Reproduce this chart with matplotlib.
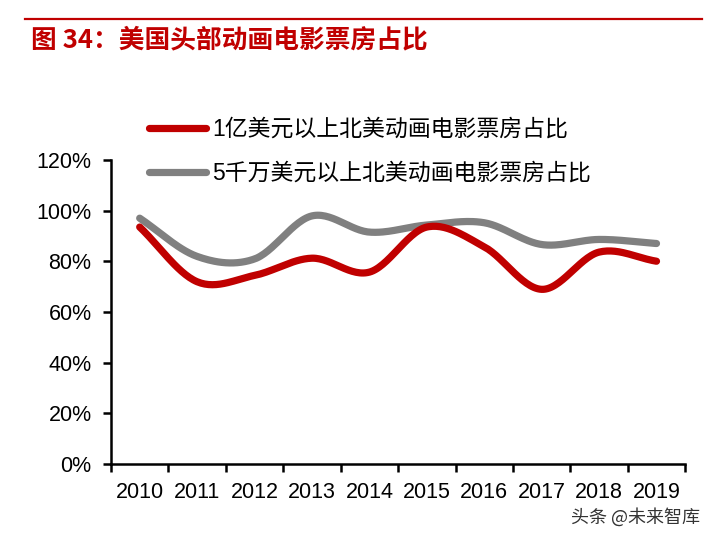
import numpy as np
import matplotlib
matplotlib.use("Agg")
import matplotlib.pyplot as plt
from matplotlib.ticker import PercentFormatter, FixedLocator

plt.rcParams['font.family'] = ['Liberation Sans', 'Noto Sans CJK SC', 'DejaVu Sans']

# data
years = ['2010', '2011', '2012', '2013', '2014', '2015', '2016', '2017', '2018', '2019']
share_100m = [93.6, 72.0, 74.5, 81.3, 75.8, 93.6, 85.8, 69.0, 83.7, 80.1]
share_50m = [97.1, 82.0, 81.0, 98.0, 91.6, 94.4, 95.3, 86.7, 88.7, 87.1]
labels = ['1亿美元以上北美动画电影票房占比', '5千万美元以上北美动画电影票房占比']
title = '图 34：美国头部动画电影票房占比'

red = '#C00000'
gray = '#808080'


def smooth(x, y, n=30):
    # Catmull-Rom curve through the points, like the smoothed line of the original
    x = np.asarray(x, float)
    y = np.asarray(y, float)
    m = np.gradient(y, x, edge_order=1)
    m[1:-1] = (y[2:] - y[:-2]) / (x[2:] - x[:-2])
    xs, ys = [], []
    for i in range(len(x) - 1):
        t = np.linspace(0, 1, n, endpoint=(i == len(x) - 2))
        h = x[i + 1] - x[i]
        h00 = 2 * t**3 - 3 * t**2 + 1
        h10 = t**3 - 2 * t**2 + t
        h01 = -2 * t**3 + 3 * t**2
        h11 = t**3 - t**2
        xs.append(x[i] + t * h)
        ys.append(h00 * y[i] + h10 * h * m[i] + h01 * y[i + 1] + h11 * h * m[i + 1])
    return np.concatenate(xs), np.concatenate(ys)


fig = plt.figure(figsize=(7.16, 5.34), dpi=100)
ax = fig.add_axes([0.155, 0.131, 0.802, 0.569])

pos = np.arange(len(years))
xr, yr = smooth(pos, share_100m)
xg, yg = smooth(pos, share_50m)
ax.plot(xg, yg, color=gray, lw=5.2, solid_capstyle='round', label=labels[1], zorder=2)
ax.plot(xr, yr, color=red, lw=5.2, solid_capstyle='round', label=labels[0], zorder=3)

ax.set_xlim(-0.5, len(years) - 0.5)
ax.set_ylim(0, 120)
ax.yaxis.set_major_formatter(PercentFormatter(decimals=0))
ax.set_yticks(np.arange(0, 121, 20))

# ticks on category borders, labels in the middle
ax.xaxis.set_major_locator(FixedLocator(np.arange(-0.5, len(years), 1)))
ax.xaxis.set_minor_locator(FixedLocator(pos))
ax.set_xticklabels([])
ax.set_xticks(pos, years, minor=True)
ax.tick_params(axis='x', which='minor', length=0, pad=13, labelsize=15.5)
ax.tick_params(axis='x', which='major', length=6, width=1.8, direction='out')
ax.tick_params(axis='y', length=6, width=1.8, direction='out', labelsize=15.5, pad=8)

for s in ['top', 'right']:
    ax.spines[s].set_visible(False)
for s in ['left', 'bottom']:
    ax.spines[s].set_linewidth(1.8)

h, l = ax.get_legend_handles_labels()
leg = fig.legend(h[::-1], l[::-1], loc='upper left', bbox_to_anchor=(0.195, 0.797),
                 frameon=False, fontsize=16.5, handlelength=2.5, handletextpad=0.25,
                 labelspacing=0.93, borderaxespad=0)

fig.add_artist(plt.Line2D([0.035, 0.98], [0.964, 0.964], color=red, lw=1.6))
fig.text(0.043, 0.925, title, color=red, fontsize=18.5, fontweight='bold',
         family=['Noto Sans CJK SC'], va='center', ha='left')
fig.text(0.978, 0.032, '头条 @未来智库', color='#333333', fontsize=13,
         family=['Noto Sans CJK SC'], ha='right', va='center')

fig.savefig('out.png', dpi=100)
